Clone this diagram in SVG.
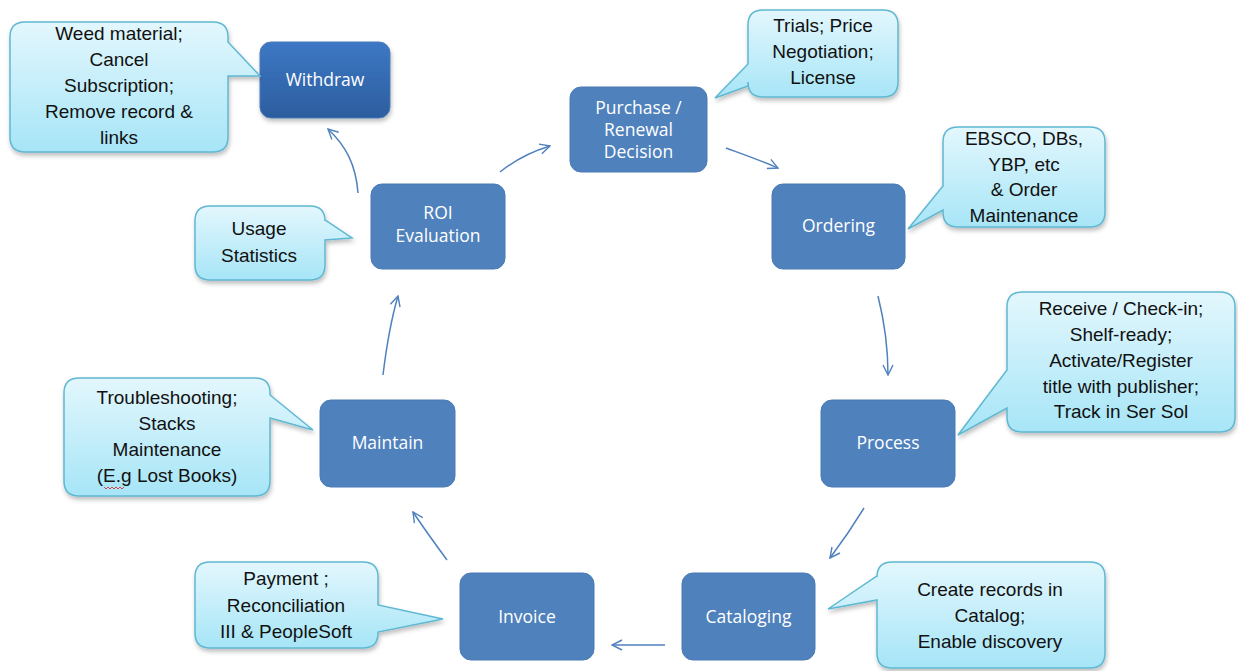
<svg xmlns="http://www.w3.org/2000/svg" width="1238" height="671" viewBox="0 0 1238 671">
<defs>
<linearGradient id="cg" x1="0" y1="0" x2="0" y2="1"><stop offset="0" stop-color="#e3f7fd"/><stop offset="1" stop-color="#a6e5f7"/></linearGradient>
<linearGradient id="wg" x1="0" y1="0" x2="0" y2="1"><stop offset="0" stop-color="#3d78c4"/><stop offset="1" stop-color="#2c5d9e"/></linearGradient>
<filter id="sh" x="-10%" y="-10%" width="125%" height="130%"><feDropShadow dx="1" dy="3" stdDeviation="2" flood-color="#000" flood-opacity="0.25"/></filter>
<marker id="ah" viewBox="0 0 12 12" refX="11" refY="6" markerWidth="12" markerHeight="12" markerUnits="userSpaceOnUse" orient="auto"><path d="M1,1 L11,6 L1,11" fill="none" stroke="#4f81bd" stroke-width="1.4"/></marker>
<style>
.node{fill:#4f81bd;stroke:#4a7bb5;stroke-width:1}
.nt{font-family:"Open Sans","Liberation Sans",sans-serif;font-size:17.5px;fill:#fff;text-anchor:middle}
.call{fill:url(#cg);stroke:#5fb8d2;stroke-width:1.5;filter:url(#sh)}
.ct{font-family:"Liberation Sans",sans-serif;font-size:19px;fill:#111;text-anchor:middle}
.conn path{fill:none;stroke:#4f81bd;stroke-width:1.5;marker-end:url(#ah)}
</style>
</defs>
<rect width="1238" height="671" fill="#fff"/>

<g id="connectors" class="conn">
<path d="M358,193 C356,165 346,146 328,129"/>
<path d="M500,172 C515,160 530,152 550,146"/>
<path d="M726,148 C745,155 762,161 778,168"/>
<path d="M878,296 C884,320 888,345 888,375"/>
<path d="M864,508 C853,526 842,542 830,558"/>
<path d="M665,645 C648,645 632,645 612,645"/>
<path d="M447,560 C436,545 425,530 413,512"/>
<path d="M383,375 C386,350 391,320 398,296"/>
</g>

<g id="withdraw">
<rect class="node" x="260" y="42" width="130" height="76" rx="11" style="fill:url(#wg);filter:url(#sh)"/>
<text class="nt" x="325" y="86">Withdraw</text>
</g>
<g id="purchase">
<rect class="node" x="570" y="87" width="137" height="85" rx="11"/>
<text class="nt" x="638.5" y="114">Purchase /</text>
<text class="nt" x="638.5" y="136">Renewal</text>
<text class="nt" x="638.5" y="158">Decision</text>
</g>
<g id="ordering">
<rect class="node" x="772" y="184" width="133" height="85" rx="11"/>
<text class="nt" x="838.5" y="232">Ordering</text>
</g>
<g id="process">
<rect class="node" x="821" y="400" width="134" height="87" rx="11"/>
<text class="nt" x="888" y="449">Process</text>
</g>
<g id="cataloging">
<rect class="node" x="682" y="573" width="133" height="87" rx="11"/>
<text class="nt" x="748.5" y="623">Cataloging</text>
</g>
<g id="invoice">
<rect class="node" x="460" y="573" width="134" height="87" rx="11"/>
<text class="nt" x="527" y="623">Invoice</text>
</g>
<g id="maintain">
<rect class="node" x="320" y="400" width="135" height="87" rx="11"/>
<text class="nt" x="387.5" y="449">Maintain</text>
</g>
<g id="roi">
<rect class="node" x="371" y="184" width="134" height="85" rx="11"/>
<text class="nt" x="438" y="219">ROI</text>
<text class="nt" x="438" y="242">Evaluation</text>
</g>

<g id="callout-withdraw">
<path class="call" d="M25,22 H213 Q228,22 228,37 V42 L260,76 L228,76 V137 Q228,152 213,152 H25 Q10,152 10,137 V37 Q10,22 25,22 Z"/>
<text class="ct" x="119" y="40">Weed material;</text>
<text class="ct" x="119" y="66">Cancel</text>
<text class="ct" x="119" y="92">Subscription;</text>
<text class="ct" x="119" y="118">Remove record &amp;</text>
<text class="ct" x="119" y="144">links</text>
</g>
<g id="callout-purchase">
<path class="call" d="M763,10 H883 Q898,10 898,25 V82 Q898,97 883,97 H763 Q748,97 748,82 V86 L715,98 L748,64 V25 Q748,10 763,10 Z"/>
<text class="ct" x="823" y="32">Trials; Price</text>
<text class="ct" x="823" y="58">Negotiation;</text>
<text class="ct" x="823" y="84">License</text>
</g>
<g id="callout-ordering">
<path class="call" d="M958,127 H1090 Q1105,127 1105,142 V212 Q1105,227 1090,227 H958 Q943,227 943,212 V210 L908,229 L943,186 V142 Q943,127 958,127 Z"/>
<text class="ct" x="1024" y="145">EBSCO, DBs,</text>
<text class="ct" x="1024" y="171">YBP, etc</text>
<text class="ct" x="1024" y="196">&amp; Order</text>
<text class="ct" x="1024" y="222">Maintenance</text>
</g>
<g id="callout-process">
<path class="call" d="M1022,292 H1220 Q1235,292 1235,307 V417 Q1235,432 1220,432 H1022 Q1007,432 1007,417 V408 L958,435 L1007,370 V307 Q1007,292 1022,292 Z"/>
<text class="ct" x="1121" y="315">Receive / Check-in;</text>
<text class="ct" x="1121" y="341">Shelf-ready;</text>
<text class="ct" x="1121" y="367">Activate/Register</text>
<text class="ct" x="1121" y="393">title with publisher;</text>
<text class="ct" x="1121" y="418">Track in Ser Sol</text>
</g>
<g id="callout-cataloging">
<path class="call" d="M892,562 H1090 Q1105,562 1105,577 V653 Q1105,668 1090,668 H892 Q877,668 877,653 V600 L828,609 L877,576 V577 Q877,562 892,562 Z"/>
<text class="ct" x="990" y="596">Create records in</text>
<text class="ct" x="990" y="622">Catalog;</text>
<text class="ct" x="990" y="648">Enable discovery</text>
</g>
<g id="callout-invoice">
<path class="call" d="M210,562 H363 Q378,562 378,577 V605 L443,619 L378,632 V633 Q378,648 363,648 H210 Q195,648 195,633 V577 Q195,562 210,562 Z"/>
<text class="ct" x="286" y="585">Payment ;</text>
<text class="ct" x="286" y="612">Reconciliation</text>
<text class="ct" x="286" y="638">III &amp; PeopleSoft</text>
</g>
<g id="callout-maintain">
<path class="call" d="M79,378 H255 Q270,378 270,393 V395 L313,430 L270,418 V481 Q270,496 255,496 H79 Q64,496 64,481 V393 Q64,378 79,378 Z"/>
<text class="ct" x="167" y="404">Troubleshooting;</text>
<text class="ct" x="167" y="430">Stacks</text>
<text class="ct" x="167" y="456">Maintenance</text>
<text class="ct" x="167" y="482">(E.g Lost Books)</text>
<path d="M104,487 l2,2 l2,-2 l2,2 l2,-2 l2,2 l2,-2 l2,2 l2,-2 l2,2 l2,-2" fill="none" stroke="#e02020" stroke-width="0.8"/>
</g>
<g id="callout-roi">
<path class="call" d="M210,206 H310 Q325,206 325,221 V220 L352,238 L325,240 V265 Q325,280 310,280 H210 Q195,280 195,265 V221 Q195,206 210,206 Z"/>
<text class="ct" x="259" y="235">Usage</text>
<text class="ct" x="259" y="262">Statistics</text>
</g>
</svg>
